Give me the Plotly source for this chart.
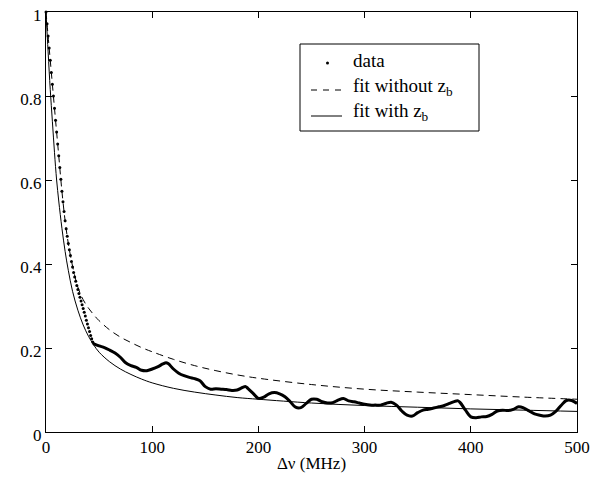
import plotly.graph_objects as go

# ---- data: dotted part (steep early decay) ----
dot_x = list(range(0, 46))
dot_y = [1.000, 0.972, 0.943, 0.914, 0.885, 0.856, 0.828, 0.800, 0.771, 0.742,
         0.714, 0.686, 0.658, 0.630, 0.602, 0.573, 0.548, 0.525, 0.503, 0.484,
         0.466, 0.449, 0.434, 0.420, 0.406, 0.393, 0.380, 0.369, 0.359, 0.349,
         0.339, 0.330, 0.321, 0.312, 0.303, 0.294, 0.285, 0.276, 0.266, 0.257,
         0.248, 0.239, 0.230, 0.222, 0.214, 0.210]

# ---- data: dense tail (appears as thick line) ----
tail_x = [45, 50, 55, 60, 65, 70, 75, 80, 85, 90, 95, 100, 105, 110, 113, 115, 120,
          125, 130, 135, 140, 145, 150, 155, 160, 165, 170, 175, 180, 185, 188, 190,
          195, 200, 205, 210, 215, 220, 225, 230, 235, 240, 245, 250, 255, 260, 265,
          270, 275, 280, 285, 290, 295, 300, 305, 310, 315, 320, 325, 330, 335, 340,
          345, 350, 355, 360, 365, 370, 375, 380, 385, 388, 390, 395, 400, 405, 410,
          415, 420, 425, 430, 435, 440, 445, 450, 455, 460, 465, 470, 475, 480, 485,
          490, 495, 500]
tail_y = [0.210, 0.205, 0.201, 0.195, 0.188, 0.178, 0.165, 0.158, 0.154, 0.147, 0.146,
          0.150, 0.155, 0.162, 0.165, 0.163, 0.150, 0.140, 0.134, 0.130, 0.127, 0.122,
          0.108, 0.102, 0.103, 0.102, 0.101, 0.099, 0.100, 0.106, 0.108, 0.104, 0.092,
          0.080, 0.083, 0.091, 0.094, 0.091, 0.084, 0.072, 0.059, 0.058, 0.068, 0.078,
          0.078, 0.072, 0.069, 0.070, 0.076, 0.080, 0.074, 0.072, 0.069, 0.066, 0.064,
          0.064, 0.064, 0.068, 0.071, 0.064, 0.050, 0.040, 0.038, 0.046, 0.052, 0.054,
          0.057, 0.060, 0.063, 0.068, 0.073, 0.074, 0.070, 0.052, 0.036, 0.034, 0.036,
          0.037, 0.042, 0.050, 0.052, 0.051, 0.054, 0.060, 0.057, 0.050, 0.043, 0.040,
          0.038, 0.040, 0.049, 0.063, 0.075, 0.075, 0.068]

# ---- fit without z_b (dashed) ----
fit1_x = [0, 3, 6, 9, 12, 15, 18, 21, 25, 30, 35, 40, 45, 50, 60, 70, 80, 90, 100,
          120, 140, 160, 180, 200, 250, 300, 350, 400, 450, 500]
fit1_y = [1.000, 0.914, 0.828, 0.742, 0.658, 0.573, 0.503, 0.449, 0.395, 0.345, 0.315,
          0.295, 0.279, 0.265, 0.243, 0.226, 0.213, 0.201, 0.191, 0.173, 0.158, 0.146,
          0.136, 0.128, 0.113, 0.102, 0.095, 0.089, 0.083, 0.078]

# ---- fit with z_b (solid) ----
fit2_x = [0, 2, 4, 6, 8, 10, 12, 15, 18, 21, 25, 30, 35, 40, 45, 50, 60, 70, 80, 90,
          100, 120, 140, 160, 180, 200, 250, 300, 350, 400, 450, 500]
fit2_y = [1.000, 0.905, 0.815, 0.740, 0.665, 0.600, 0.550, 0.485, 0.430, 0.385, 0.335,
          0.290, 0.255, 0.228, 0.207, 0.190, 0.167, 0.150, 0.137, 0.126, 0.117, 0.104,
          0.095, 0.088, 0.082, 0.078, 0.069, 0.063, 0.059, 0.055, 0.052, 0.049]

x_ticks = [0, 100, 200, 300, 400, 500]
y_ticks = [0, 0.2, 0.4, 0.6, 0.8, 1]
y_tick_labels = ["0", "0.2", "0.4", "0.6", "0.8", "1"]
legend_labels = ["data", "fit without z<sub>b</sub>", "fit with z<sub>b</sub>"]

FONT = "Liberation Serif, Times New Roman, serif"
DASH = "7px,5px"

fig = go.Figure()
fig.add_trace(go.Scatter(x=fit1_x, y=fit1_y, mode="lines", name=legend_labels[1],
                         line=dict(color="black", width=1, dash=DASH, shape="spline"),
                         showlegend=False))
fig.add_trace(go.Scatter(x=fit2_x, y=fit2_y, mode="lines", name=legend_labels[2],
                         line=dict(color="black", width=1, shape="spline"),
                         showlegend=False))
fig.add_trace(go.Scatter(x=tail_x, y=tail_y, mode="lines", name=legend_labels[0],
                         line=dict(color="black", width=3, shape="spline"),
                         showlegend=False))
fig.add_trace(go.Scatter(x=dot_x, y=dot_y, mode="markers", name=legend_labels[0],
                         marker=dict(color="black", size=3), showlegend=False,
                         cliponaxis=False))

axis_common = dict(showline=True, linecolor="black", linewidth=1, mirror="ticks",
                   ticks="inside", ticklen=6, tickcolor="black", tickwidth=1,
                   showgrid=False, zeroline=False, automargin=False,
                   ticklabeloverflow="allow",
                   tickfont=dict(family=FONT, size=17, color="black"))

fig.update_xaxes(range=[0, 500], tickvals=x_ticks, ticktext=[str(v) for v in x_ticks],
                 title=dict(text="Δν (MHz)", font=dict(family=FONT, size=17, color="black"),
                            standoff=0),
                 **axis_common)
fig.update_yaxes(range=[0, 1], tickvals=y_ticks, ticktext=y_tick_labels,
                 ticklabelshift=3, **axis_common)

# ---- hand-built MATLAB-style legend (paper coords from pixel layout) ----
L, R, T, B = 46.0, 577.0, 12.0, 432.0
def px(xp):
    return (xp - L) / (R - L)
def py(yp):
    return (B - yp) / (B - T)

shapes = [
    dict(type="rect", xref="paper", yref="paper", x0=px(300), x1=px(479),
         y0=py(131), y1=py(44), line=dict(color="black", width=1), fillcolor="white",
         layer="above"),
    dict(type="circle", xref="paper", yref="paper", xsizemode="pixel", ysizemode="pixel",
         xanchor=px(327.5), yanchor=py(63), x0=-1.5, x1=1.5, y0=-1.5, y1=1.5,
         fillcolor="black", line=dict(color="black", width=0), layer="above"),
    dict(type="line", xref="paper", yref="paper", x0=px(311), x1=px(342),
         y0=py(90), y1=py(90), line=dict(color="black", width=1, dash="6px,6px"),
         layer="above"),
    dict(type="line", xref="paper", yref="paper", x0=px(311), x1=px(342),
         y0=py(116), y1=py(116), line=dict(color="black", width=1), layer="above"),
]
annotations = []
for label, ycen in zip(legend_labels, [60, 87, 112]):
    annotations.append(dict(text=label, xref="paper", yref="paper", x=px(351), y=py(ycen),
                            xanchor="left", yanchor="middle", showarrow=False,
                            font=dict(family=FONT, size=19, color="black")))

fig.update_layout(
    width=611, height=478,
    margin=dict(l=46, r=34, t=12, b=46),
    paper_bgcolor="white", plot_bgcolor="white",
    font=dict(family=FONT, size=17, color="black"),
    showlegend=False,
    shapes=shapes, annotations=annotations,
)

# remove the browser's default 8px body margin so the figure sits at the page origin
fig.write_html("out.html", config={"displayModeBar": False},
               post_script="document.body.style.margin='0px';")
